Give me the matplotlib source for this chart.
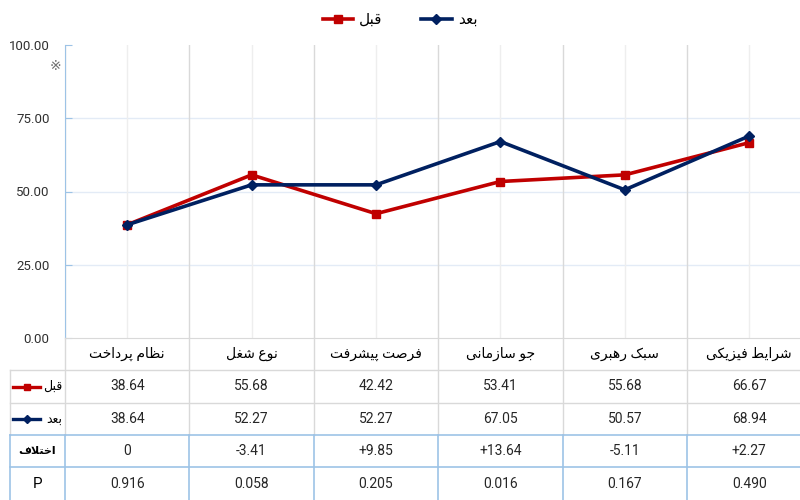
import matplotlib
matplotlib.use('Agg')
import matplotlib.pyplot as plt
from matplotlib.lines import Line2D

plt.rcParams['font.family'] = ['Roboto', 'DejaVu Sans']

# data
categories = ['نظام پرداخت', 'نوع شغل', 'فرصت پیشرفت', 'جو سازمانی', 'سبک رهبری', 'شرایط فیزیکی']
before = [38.64, 55.68, 42.42, 53.41, 55.68, 66.67]
after = [38.64, 52.27, 52.27, 67.05, 50.57, 68.94]
diff_labels = ['0', '-3.41', '+9.85', '+13.64', '-5.11', '+2.27']
p_values = ['0.916', '0.058', '0.205', '0.016', '0.167', '0.490']
yticks = [0, 25, 50, 75, 100]

label_before = 'قبل'
label_after = 'بعد'
label_diff = 'اختلاف'

# arabic letter forms: isolated, final, initial, medial
FORMS = {
    'ا': ('\uFE8D', '\uFE8E', None, None),
    'ب': ('\uFE8F', '\uFE90', '\uFE91', '\uFE92'),
    'ت': ('\uFE95', '\uFE96', '\uFE97', '\uFE98'),
    'ج': ('\uFE9D', '\uFE9E', '\uFE9F', '\uFEA0'),
    'خ': ('\uFEA5', '\uFEA6', '\uFEA7', '\uFEA8'),
    'د': ('\uFEA9', '\uFEAA', None, None),
    'ر': ('\uFEAD', '\uFEAE', None, None),
    'ز': ('\uFEAF', '\uFEB0', None, None),
    'س': ('\uFEB1', '\uFEB2', '\uFEB3', '\uFEB4'),
    'ش': ('\uFEB5', '\uFEB6', '\uFEB7', '\uFEB8'),
    'ص': ('\uFEB9', '\uFEBA', '\uFEBB', '\uFEBC'),
    'ط': ('\uFEC1', '\uFEC2', '\uFEC3', '\uFEC4'),
    'ظ': ('\uFEC5', '\uFEC6', '\uFEC7', '\uFEC8'),
    'ع': ('\uFEC9', '\uFECA', '\uFECB', '\uFECC'),
    'غ': ('\uFECD', '\uFECE', '\uFECF', '\uFED0'),
    'ف': ('\uFED1', '\uFED2', '\uFED3', '\uFED4'),
    'ق': ('\uFED5', '\uFED6', '\uFED7', '\uFED8'),
    'ل': ('\uFEDD', '\uFEDE', '\uFEDF', '\uFEE0'),
    'م': ('\uFEE1', '\uFEE2', '\uFEE3', '\uFEE4'),
    'ن': ('\uFEE5', '\uFEE6', '\uFEE7', '\uFEE8'),
    'ه': ('\uFEE9', '\uFEEA', '\uFEEB', '\uFEEC'),
    'و': ('\uFEED', '\uFEEE', None, None),
    'پ': ('\uFB56', '\uFB57', '\uFB58', '\uFB59'),
    'ک': ('\uFB8E', '\uFB8F', '\uFB90', '\uFB91'),
    'ی': ('\uFBFC', '\uFBFD', '\uFBFE', '\uFBFF'),
}


def joins_next(c):
    return c in FORMS and FORMS[c][2] is not None


def shape(s):
    out = []
    i = 0
    while i < len(s):
        c = s[i]
        if c not in FORMS:
            out.append(c)
            i += 1
            continue
        jp = i > 0 and joins_next(s[i - 1])
        if c == 'ل' and i + 1 < len(s) and s[i + 1] == 'ا':
            out.append('\uFEFC' if jp else '\uFEFB')
            i += 2
            continue
        jn = joins_next(c) and i + 1 < len(s) and s[i + 1] in FORMS
        f = FORMS[c]
        if jp and jn:
            out.append(f[3])
        elif jp:
            out.append(f[1])
        elif jn:
            out.append(f[2])
        else:
            out.append(f[0])
        i += 1
    return ''.join(reversed(out))


red = '#c00000'
navy = '#002060'
grey = '#d9d9d9'
lblue = '#9dc3e6'
txt = '#262626'

W, H = 800, 500
x0 = 65          # left edge of plot in px
cw = 124.4       # category width in px
ytop, ybot = 45, 338

fig = plt.figure(figsize=(8, 5), dpi=100)
ax = fig.add_axes([x0 / W, (H - ybot) / H, 6 * cw / W, (ybot - ytop) / H])

xs = range(len(categories))
ax.plot(xs, before, color=red, lw=2.6, marker='s', ms=6, label=shape(label_before), zorder=3)
ax.plot(xs, after, color=navy, lw=2.6, marker='D', ms=5, label=shape(label_after), zorder=4)

ax.set_xlim(-0.5, 5.5)
ax.set_ylim(0, 100)
ax.set_yticks(yticks)
ax.set_yticklabels(['%.2f' % v for v in yticks], fontsize=9.5, color='#303030')
ax.tick_params(axis='y', direction='in', length=5, color=lblue, pad=11)
ax.set_xticks([i - 0.5 for i in range(7)])
ax.set_xticks(list(xs), minor=True)
ax.tick_params(axis='x', which='both', length=0, labelbottom=False)
ax.grid(axis='x', which='major', color=grey, lw=1)
ax.grid(axis='x', which='minor', color='#eeeeee', lw=1)
for v in yticks[1:-1]:
    ax.axhline(v, color='#e3ebf6', lw=1, zorder=1)
for s in ['top', 'right']:
    ax.spines[s].set_visible(False)
ax.spines['left'].set_color(lblue)
ax.spines['bottom'].set_color(grey)

fig.text(55 / W, 1 - 66 / H, '※', ha='center', va='center', fontsize=10, color='#707070',
         family=['DejaVu Sans'])

handles = [Line2D([], [], color=red, lw=2.6, marker='s', ms=6),
           Line2D([], [], color=navy, lw=2.6, marker='D', ms=5)]
fig.legend(handles, [shape(label_before), shape(label_after)], loc='center',
           bbox_to_anchor=(0.5, 1 - 20 / H), ncol=2, frameon=False, fontsize=11,
           handlelength=2.0, columnspacing=2.5, handletextpad=0.4)

# data table below the plot
tax = fig.add_axes([x0 / W, 0, 6 * cw / W, (H - ybot) / H])
tax.set_xlim(-0.5, 5.5)
tax.set_ylim(H, ybot)
tax.axis('off')


def px(p):
    return (p - x0) / cw - 0.5


rows = [338, 370, 403, 435, 467, 500]
xl = px(10)
bounds = [i - 0.5 for i in range(7)]

# grey part
for y in [370, 403]:
    tax.plot([xl, 5.5], [y, y], color=grey, lw=1, clip_on=False)
for b in bounds:
    tax.plot([b, b], [338, 435], color=grey, lw=1, clip_on=False)
tax.plot([xl, xl], [370, 435], color=grey, lw=1, clip_on=False)
# blue part
for y in [435, 467]:
    tax.plot([xl, 5.5], [y, y], color=lblue, lw=1.2, clip_on=False)
for b in bounds + [xl]:
    tax.plot([b, b], [435, 500], color=lblue, lw=1.2, clip_on=False)

mid = [(rows[k] + rows[k + 1]) / 2 for k in range(5)]
for i in xs:
    tax.text(i, mid[0], shape(categories[i]), ha='center', va='center', fontsize=10, color='black')
    tax.text(i, mid[1], '%.2f' % before[i], ha='center', va='center', fontsize=10, color=txt)
    tax.text(i, mid[2], '%.2f' % after[i], ha='center', va='center', fontsize=10, color=txt)
    tax.text(i, mid[3], diff_labels[i], ha='center', va='center', fontsize=10, color=txt)
    tax.text(i, mid[4], p_values[i], ha='center', va='center', fontsize=10, color=txt)

# row labels with legend keys
tax.plot([px(13), px(40)], [mid[1], mid[1]], color=red, lw=2.4, clip_on=False)
tax.plot([px(26.5)], [mid[1]], color=red, marker='s', ms=5, clip_on=False)
tax.text(px(62), mid[1], shape(label_before), ha='right', va='center', fontsize=9, color='black')
tax.plot([px(13), px(40)], [mid[2], mid[2]], color=navy, lw=2.4, clip_on=False)
tax.plot([px(26.5)], [mid[2]], color=navy, marker='D', ms=4, clip_on=False)
tax.text(px(62), mid[2], shape(label_after), ha='right', va='center', fontsize=9, color='black')
tax.text(px(37), mid[3], shape(label_diff), ha='center', va='center', fontsize=8,
         fontweight='bold', color='black')
tax.text(px(37), mid[4], 'P', ha='center', va='center', fontsize=11, color='black')

fig.savefig('out.png', dpi=100)
